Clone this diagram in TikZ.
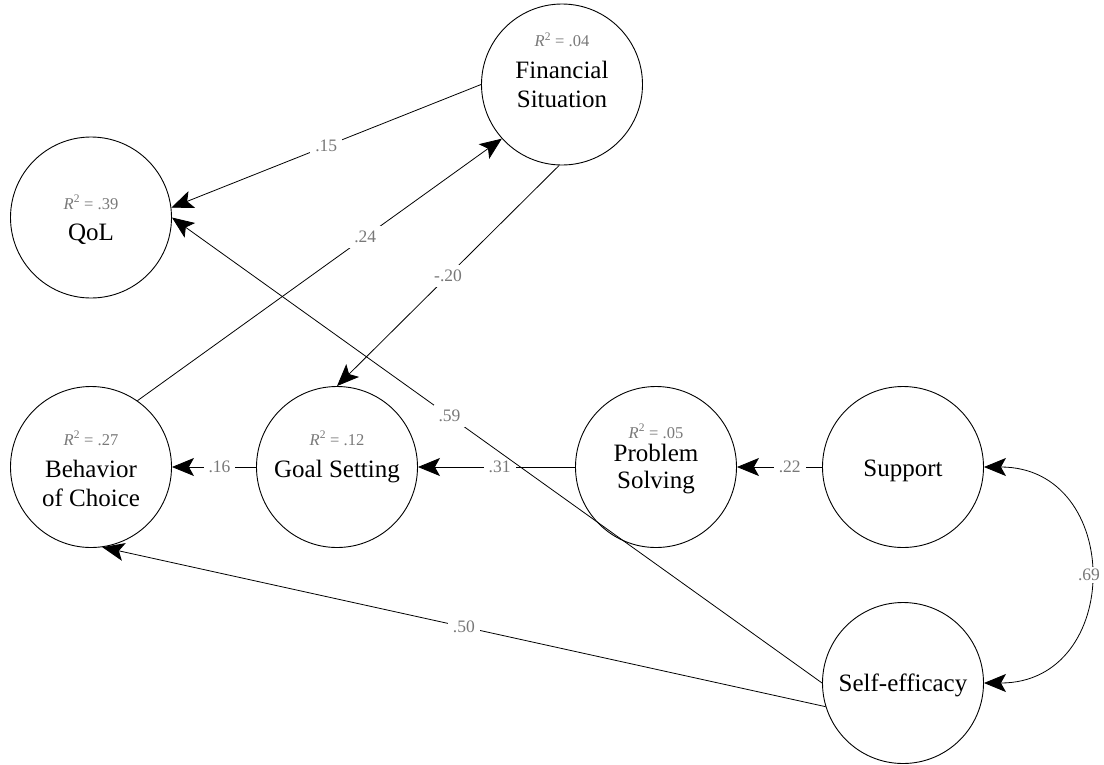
\documentclass[tikz,border=0pt]{standalone}
\usepackage{fontspec}
\setmainfont{Liberation Serif}
\usetikzlibrary{arrows.meta,calc}
\definecolor{coefgray}{RGB}{120,120,120}
\begin{document}
\begin{tikzpicture}[x=1pt,y=-1pt,
  latent/.style={draw=black,circle,line width=0.9pt,minimum size=161pt,inner sep=0pt},
  vname/.style={anchor=base,inner sep=0pt,font=\fontsize{25}{29}\selectfont},
  rsq/.style={anchor=base,inner sep=0pt,text=coefgray,font=\fontsize{16.5}{19}\selectfont},
  coef/.style={fill=white,inner sep=5pt,text=coefgray,font=\fontsize{17.5}{20}\selectfont},
  path/.style={line width=0.8pt,-{Stealth[length=22pt,width=18pt,inset=5pt]}},
  covar/.style={line width=0.8pt,{Stealth[length=22pt,width=18pt,inset=5pt]}-{Stealth[length=22pt,width=18pt,inset=5pt]}}]
\useasboundingbox (0,0) rectangle (1104,764);

% latent variables
\node[latent] (qol) at (91,217.5) {};
\node[latent] (fin) at (562,84.5) {};
\node[latent] (beh) at (91,467) {};
\node[latent] (goal) at (337,467) {};
\node[latent] (ps) at (656,467) {};
\node[latent] (sup) at (903,467) {};
\node[latent] (se) at (903,683) {};

% names and explained variance
\node[rsq] (qol-r) at ($(qol)+(0,-8.5)$) {\textit{R}\textsuperscript{2} = .39};
\node[vname] (qol-t) at ($(qol)+(0,22.5)$) {QoL};
\node[rsq] (fin-r) at ($(fin)+(0,-38)$) {\textit{R}\textsuperscript{2} = .04};
\node[vname] (fin-t1) at ($(fin)+(0,-6.5)$) {Financial};
\node[vname] (fin-t2) at ($(fin)+(0,22.5)$) {Situation};
\node[rsq] (beh-r) at ($(beh)+(0,-22)$) {\textit{R}\textsuperscript{2} = .27};
\node[vname] (beh-t1) at ($(beh)+(0,10)$) {Behavior};
\node[vname] (beh-t2) at ($(beh)+(0,39)$) {of Choice};
\node[rsq] (goal-r) at ($(goal)+(0,-22)$) {\textit{R}\textsuperscript{2} = .12};
\node[vname] (goal-t) at ($(goal)+(0,10)$) {Goal Setting};
\node[rsq] (ps-r) at ($(ps)+(0,-29)$) {\textit{R}\textsuperscript{2} = .05};
\node[vname] (ps-t1) at ($(ps)+(0,-6)$) {Problem};
\node[vname] (ps-t2) at ($(ps)+(0,21)$) {Solving};
\node[vname] (sup-t) at ($(sup)+(0,9)$) {Support};
\node[vname] (se-t) at ($(se)+(0,8)$) {Self-efficacy};

% structural paths along the middle row
\draw[path] (goal.west) -- node[coef,pos=0.435] (c16) {.16} (beh.east);
\draw[path] (ps.west) -- node[coef,pos=0.48] (c31) {.31} (goal.east);
\draw[path] (sup.west) -- node[coef,pos=0.38] (c22) {.22} (ps.east);

% structural paths across rows
\draw[path] (fin.west) -- node[coef,pos=0.5] (c15) {.15} (qol.7);
\draw[path] (beh.55) -- node[coef,pos=0.625] (c24) {.24} (fin.222);
\draw[path] (fin.268) -- node[coef,pos=0.5] (c20) {-.20} (goal.north);
\draw[path] (se.197) -- node[coef,pos=0.5] (c50) {.50} (beh.-82);
\draw[path] (se.west) -- node[coef,pos=0.573] (c59) {.59} (qol.east);

% covariance
\draw[covar] (sup.east) .. controls +(140pt,0) and +(140pt,0) .. node[coef,midway,inner sep=2pt] (c69) {.69} (se.east);
\end{tikzpicture}
\end{document}
